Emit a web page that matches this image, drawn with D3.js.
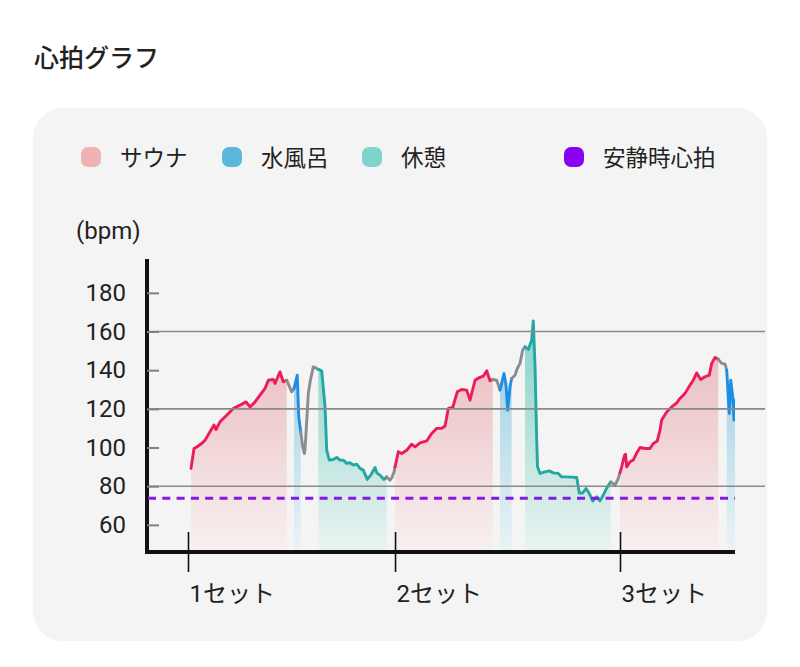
<!DOCTYPE html>
<html><head><meta charset="utf-8">
<script src="https://cdn.jsdelivr.net/npm/d3@7"></script>
<style>
body{margin:0;background:#fff;}
svg text{font-family:Roboto,"Noto Sans CJK JP",sans-serif;fill:#222;}
</style></head><body>
<svg id="chart" width="800" height="667"></svg>
<script>
// ---------- data ----------
const title = "心拍グラフ";
const legendLabels = ["サウナ","水風呂","休憩","安静時心拍"];
const yUnit = "(bpm)";
const yTickValues = [60,80,100,120,140,160,180];
const gridValues = [80,120,160];
const setLabels = ["1セット","2セット","3セット"];
const setStarts = [5.0, 30.88, 59.0];   // minutes
const restingHR = 73.8;

// [minute, bpm]
const sauna1 = [[5.38,89.2],[5.75,99.5],[6.09,100.3],[6.71,102.1],[7.13,103.8],[7.75,108.1],[8.25,111.6],[8.5,109.3],[9.0,113.3],[9.84,116.7],[10.66,120.2],[11.5,121.9],[12.25,123.6],[12.75,121.0],[13.38,123.6],[14.0,127.1],[14.63,130.6],[15.04,134.8],[15.66,135.2],[15.88,133.1],[16.5,139.1],[16.91,134.0],[17.34,134.8]];
const trans1 = [[17.34,134.8],[17.96,128.8],[18.25,130.5]];
const water1 = [[18.25,130.5],[18.66,137.4],[18.84,115.9],[19.09,108.1]];
const trans2 = [[19.09,108.1],[19.34,100.3],[19.54,96.9],[19.63,99.0],[20.04,128.0],[20.31,135.0],[20.66,141.7],[21.09,140.9],[21.29,140.4]];
const rest1 = [[21.29,140.4],[21.71,139.7],[22.13,121.0],[22.34,98.6],[22.66,93.5],[23.16,93.8],[23.59,94.9],[24.0,93.5],[24.41,93.5],[24.84,91.8],[25.25,92.1],[25.66,90.9],[26.09,91.4],[26.5,89.2],[26.91,88.3],[27.41,83.5],[27.84,85.7],[28.38,89.7],[28.59,86.9],[29.0,85.7],[29.5,83.5],[29.84,84.8]];
const trans3 = [[29.84,84.8],[30.25,83.1],[30.5,84.5],[30.75,87.4],[30.88,90.0]];
const sauna2 = [[30.88,90.0],[31.29,97.8],[31.71,96.9],[32.34,98.6],[32.96,101.7],[33.38,100.3],[34.0,102.4],[34.84,103.4],[35.46,107.3],[36.09,109.9],[36.71,109.9],[37.13,111.1],[37.54,120.2],[38.09,120.7],[38.66,128.8],[39.21,130.0],[39.84,129.7],[40.25,124.5],[40.88,134.8],[41.41,136.2],[41.91,136.9],[42.34,139.7],[42.75,134.5],[43.09,135.2]];
const trans4 = [[43.09,135.2],[43.59,134.8],[44.0,129.7]];
const water2 = [[44.0,129.7],[44.5,138.3],[44.75,132.3],[44.96,119.3],[45.25,131.4],[45.46,135.7]];
const trans5 = [[45.46,135.7],[45.88,137.4],[46.16,140.9],[46.5,143.5],[46.84,150.4],[47.13,152.1]];
const rest2 = [[47.13,152.1],[47.54,150.7],[47.96,155.5],[48.16,165.5],[48.38,141.7],[48.59,103.8],[48.69,90.0],[49.0,86.6],[49.63,87.4],[50.16,87.9],[50.66,86.9],[51.29,86.6],[51.71,84.8],[52.34,84.8],[53.59,84.5],[53.91,76.5],[54.34,76.5],[54.75,78.8],[55.16,76.2],[55.59,72.4],[56.09,74.5],[56.5,72.4],[56.91,75.4],[57.41,79.6],[57.84,82.2]];
const trans6 = [[57.84,82.2],[58.38,80.5],[58.79,84.0],[59.0,87.0]];
const sauna3 = [[59.0,87.0],[59.21,90.0],[59.56,96.0],[59.69,96.5],[59.84,90.0],[60.25,92.6],[60.66,93.5],[61.09,97.2],[61.5,100.0],[62.13,99.5],[62.75,99.5],[63.16,102.1],[63.66,103.4],[64.0,109.0],[64.21,114.2],[64.84,118.4],[65.46,121.0],[66.09,123.1],[66.5,125.4],[67.13,128.0],[67.75,132.3],[68.16,134.8],[68.59,138.6],[69.09,135.2],[69.63,136.6],[70.16,137.4],[70.46,143.5],[70.88,146.6],[71.29,145.6]];
const trans7 = [[71.29,145.6],[71.71,143.5],[72.13,143.1],[72.34,140.0]];
const water3 = [[72.34,140.0],[72.54,126.2],[72.66,117.6],[72.84,134.8],[73.09,126.2],[73.25,114.2],[73.38,124.5]];

const segments = [
  {type:"sauna", pts:sauna1},{type:"trans", pts:trans1},{type:"water", pts:water1},{type:"trans", pts:trans2},
  {type:"rest", pts:rest1},{type:"trans", pts:trans3},{type:"sauna", pts:sauna2},{type:"trans", pts:trans4},
  {type:"water", pts:water2},{type:"trans", pts:trans5},{type:"rest", pts:rest2},{type:"trans", pts:trans6},
  {type:"sauna", pts:sauna3},{type:"trans", pts:trans7},{type:"water", pts:water3}
];

// ---------- styles ----------
const lineColor = {sauna:"#ec1c5c", water:"#1c8ee6", rest:"#22a7a4", trans:"#8c8c8c"};
const fillStops = {sauna:["#e9b3b6","#f7f0f0"], water:["#8cc8e0","#eaf3f6"], rest:["#80d0c4","#ebf3f2"]};
const legendColors = ["#f0b3b3","#5ab8dc","#7dd5cc","#8a00f0"];
const legendX = [81, 222, 362, 564];

const svg = d3.select("#chart");
svg.append("rect").attr("x",33).attr("y",108).attr("width",734).attr("height",533)
  .attr("rx",30).attr("fill","#f5f4f4");

svg.append("text").attr("x",34).attr("y",67).attr("font-size",25).attr("font-weight",500)
  .style("font-family",'"Noto Sans CJK JP",sans-serif').text(title);

// legend
const lg = svg.append("g");
legendLabels.forEach((lab,i)=>{
  lg.append("rect").attr("x",legendX[i]).attr("y",147).attr("width",20).attr("height",20).attr("rx",7)
    .attr("fill",legendColors[i]);
  lg.append("text").attr("x",legendX[i]+39).attr("y",166).attr("font-size",22.5)
    .style("font-family",'"Noto Sans CJK JP",sans-serif').text(lab);
});

svg.append("text").attr("x",76).attr("y",239).attr("font-size",24).text(yUnit);

const x = d3.scaleLinear().domain([0, 73.375]).range([148, 735]);
const y = d3.scaleLinear().domain([47, 197.5]).range([550, 259]);

const defs = svg.append("defs");
Object.entries(fillStops).forEach(([k,s])=>{
  const g = defs.append("linearGradient").attr("id","g-"+k).attr("gradientUnits","userSpaceOnUse")
    .attr("x1",0).attr("x2",0).attr("y1",310).attr("y2",550);
  g.append("stop").attr("offset",0).attr("stop-color",s[0]);
  g.append("stop").attr("offset",1).attr("stop-color",s[1]);
});
defs.append("clipPath").attr("id","clip").append("rect").attr("x",148).attr("y",250).attr("width",587).attr("height",300);

const area = d3.area().x(d=>x(d[0])).y0(y.range()[0]).y1(d=>y(d[1]));
const line = d3.line().x(d=>x(d[0])).y(d=>y(d[1]));

const plot = svg.append("g").attr("clip-path","url(#clip)");
plot.selectAll("path.area").data(segments.filter(s=>s.type!=="trans")).join("path")
  .attr("class","area").attr("d",s=>area(s.pts)).attr("fill",s=>"url(#g-"+s.type+")");

// grid lines
svg.selectAll("line.grid").data(gridValues).join("line").attr("class","grid")
  .attr("x1",148).attr("x2",765).attr("y1",d=>y(d)).attr("y2",d=>y(d))
  .attr("stroke","#8a8a8a").attr("stroke-width",1.6);

// y axis
const yAxis = d3.axisLeft(y).tickValues(yTickValues).tickSizeInner(-12).tickSizeOuter(0).tickPadding(21);
const yg = svg.append("g").attr("transform","translate(147,0)").call(yAxis);
yg.select(".domain").attr("stroke","#111").attr("stroke-width",4).attr("d","M0,259V554");
yg.selectAll(".tick line").attr("stroke","#808080").attr("stroke-width",2);
yg.selectAll(".tick text").attr("font-size",24).attr("fill","#222").style("font-family","Roboto");

// resting HR dashed line
svg.append("line").attr("x1",148).attr("x2",735).attr("y1",y(restingHR)).attr("y2",y(restingHR))
  .attr("stroke","#8418e8").attr("stroke-width",3).attr("stroke-dasharray","8,6.3");

// lines
plot.selectAll("path.ln").data(segments).join("path").attr("class","ln")
  .attr("d",s=>line(s.pts)).attr("fill","none").attr("stroke",s=>lineColor[s.type])
  .attr("stroke-width",2.9).attr("stroke-linejoin","round").attr("stroke-linecap","round");

// x axis
const xAxis = d3.axisBottom(x).tickValues(setStarts).tickFormat((d,i)=>setLabels[i]).tickSizeOuter(0);
const xg = svg.append("g").attr("transform","translate(0,552)").call(xAxis);
xg.select(".domain").attr("stroke","#111").attr("stroke-width",4).attr("d","M145,0H735");
xg.selectAll(".tick line").attr("stroke","#111").attr("stroke-width",1.6).attr("y1",-20).attr("y2",20);
xg.selectAll(".tick text").attr("font-size",24).attr("fill","#222").attr("text-anchor","start")
  .attr("x",1).attr("y",42).attr("dy","0.35em").style("font-family",'Roboto,"Noto Sans CJK JP"');
</script></body></html>
